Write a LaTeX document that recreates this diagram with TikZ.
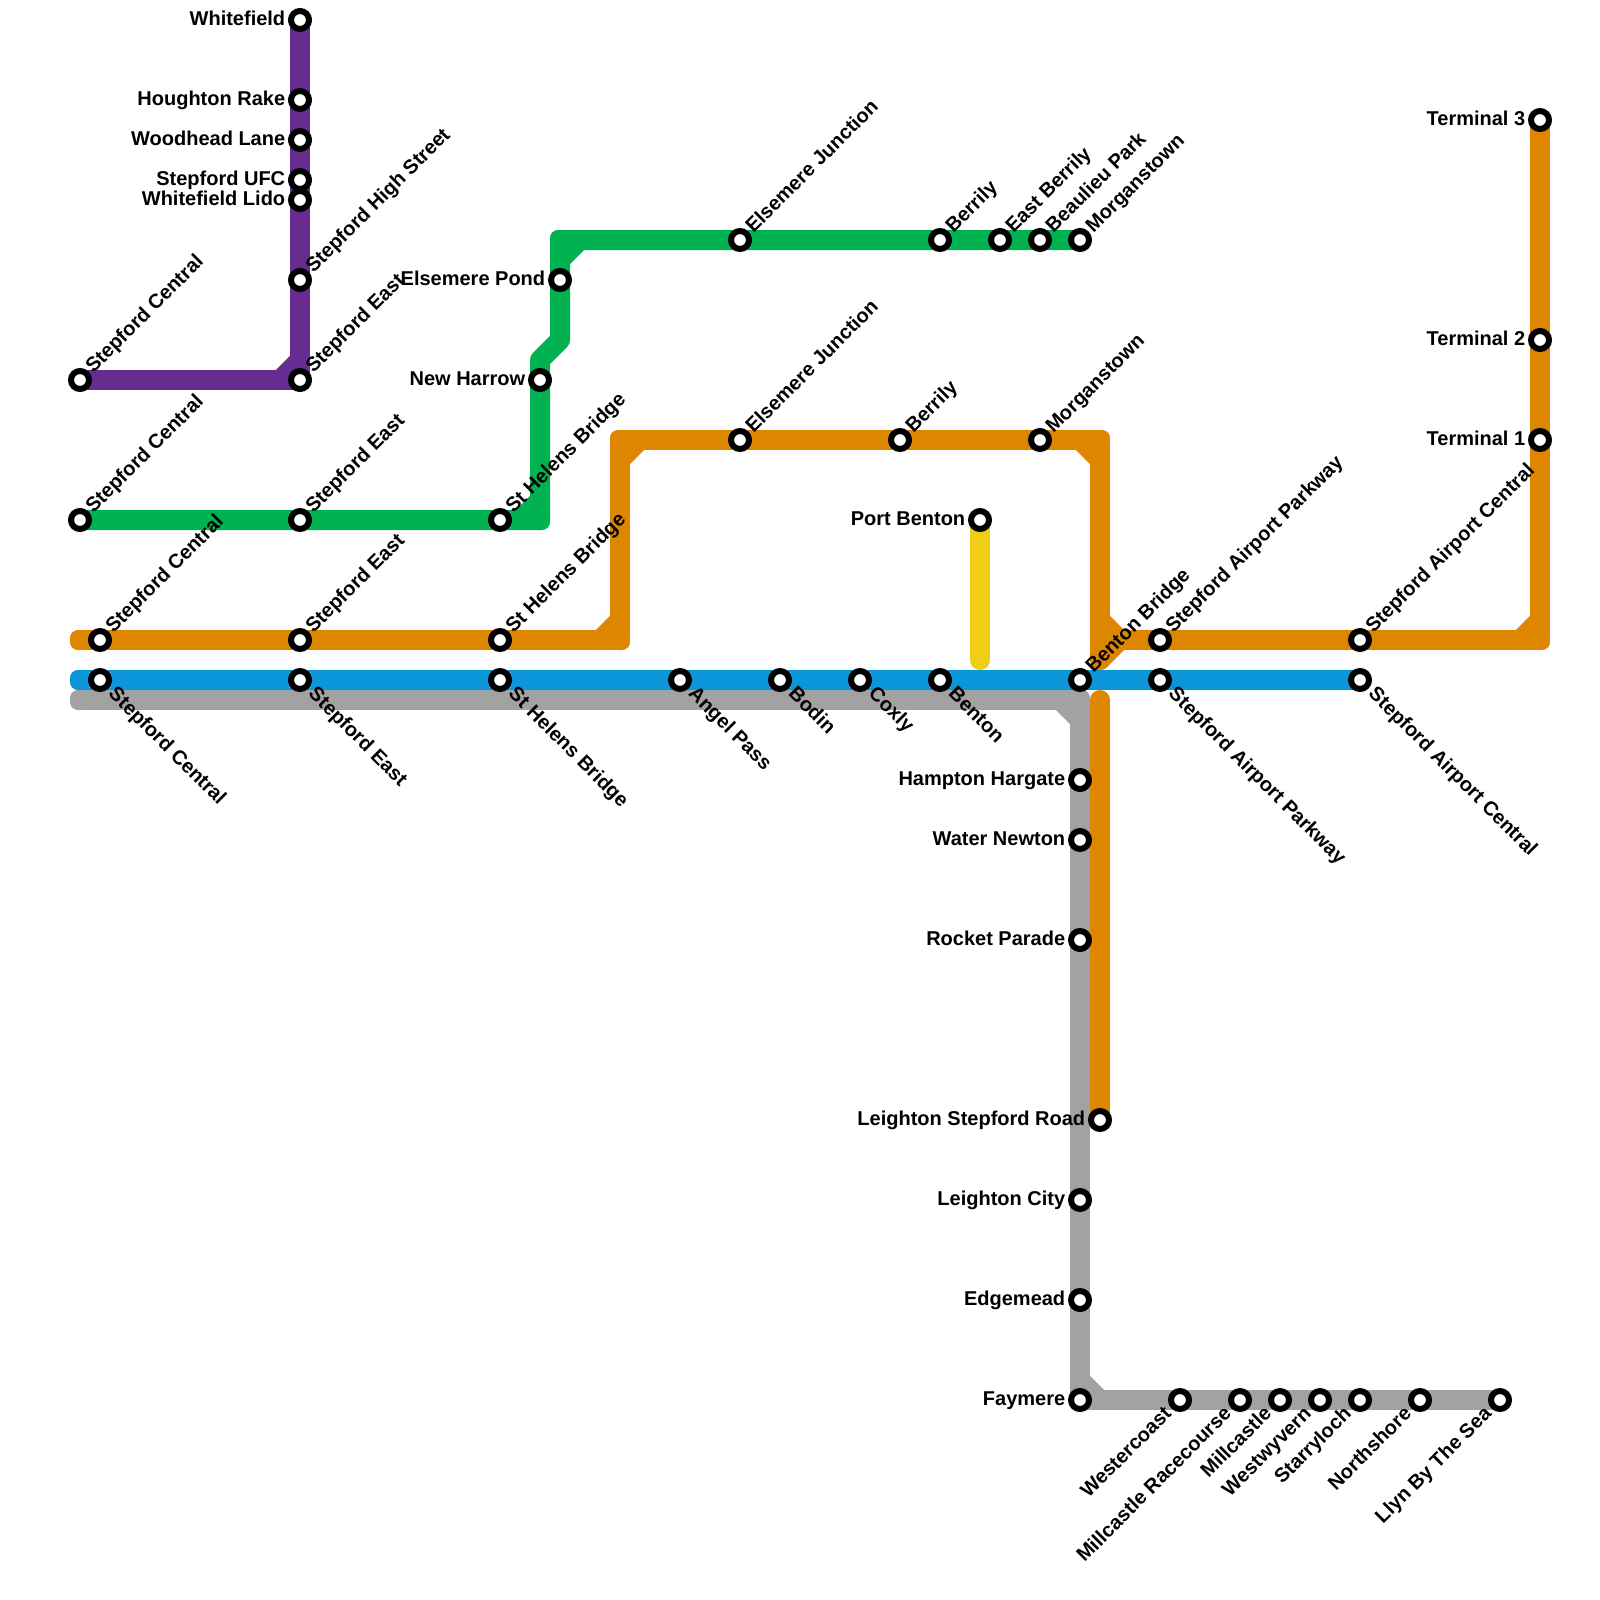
\documentclass[tikz,border=0pt]{standalone}
\usepackage{fontspec}
\setmainfont{Liberation Sans}
\definecolor{cpur}{HTML}{662C90}
\definecolor{cgrn}{HTML}{00B251}
\definecolor{cora}{HTML}{DF8600}
\definecolor{cblu}{HTML}{0A96D8}
\definecolor{cgry}{HTML}{A2A2A2}
\definecolor{cyel}{HTML}{F0CE15}
\pgfdeclarelayer{lines}
\pgfsetlayers{lines,main}
\tikzset{
  railway/.style={line width=10pt,line cap=round,line join=round},
  stopring/.style={circle,draw=black,fill=white,line width=3pt,inner sep=0pt,minimum size=9pt},
  lab/.style={inner sep=0pt,font=\fontsize{10pt}{12pt}\selectfont\bfseries,text height=7.2pt,text depth=0pt},
  lw/.style={lab,anchor=east,xshift=-7.2pt,yshift=1pt},
  lne/.style={lab,anchor=west,rotate=45,xshift=6.8pt,yshift=1pt},
  lse/.style={lab,anchor=west,rotate=-45,xshift=7.8pt,yshift=1pt},
  lsw/.style={lab,anchor=east,rotate=45,xshift=-7.8pt,yshift=1pt}
}
\newcommand{\st}[5]{\node[stopring] (#1) at (#2,#3) {}; \node[#4] (#1-t) at (#1) {#5};}
\newcommand{\bare}[3]{\node[stopring] (#1) at (#2,#3) {};}
\newcommand{\cnr}[2]{\fill[#1,rounded corners=4pt] (#2) ++(-10,-10) rectangle ++(20,20);}
\begin{document}
\begin{tikzpicture}[x=0.5pt,y=-0.5pt]
\useasboundingbox (0,0) rectangle (1600,1600);
% bends and free ends
\coordinate (pb) at (300,380);
\coordinate (gb1) at (540,520);
\coordinate (gb2) at (540,360);
\coordinate (gb3) at (560,340);
\coordinate (gb4) at (560,240);
\coordinate (ol) at (80,640);
\coordinate (ob1) at (620,640);
\coordinate (ob2) at (620,440);
\coordinate (ob3) at (1100,440);
\coordinate (ob4) at (1100,660);
\coordinate (oj) at (1100,620);
\coordinate (oj2) at (1120,640);
\coordinate (ob5) at (1540,640);
\coordinate (os) at (1100,700);
\coordinate (bl) at (80,680);
\coordinate (yl) at (980,660);
\coordinate (gl) at (80,700);
\coordinate (ge1) at (1080,700);
\coordinate (ge2) at (1080,1400);
% purple
\st{pa}{300}{20}{lw}{Whitefield}
\st{pb1}{300}{100}{lw}{Houghton Rake}
\st{pc}{300}{140}{lw}{Woodhead Lane}
\st{pd}{300}{180}{lw}{Stepford UFC}
\st{pe}{300}{200}{lw}{Whitefield Lido}
\st{pf}{300}{280}{lne}{Stepford High Street}
\st{pg}{300}{380}{lne}{Stepford East}
\st{ph}{80}{380}{lne}{Stepford Central}
% green
\st{ga}{80}{520}{lne}{Stepford Central}
\st{gb}{300}{520}{lne}{Stepford East}
\st{gc}{500}{520}{lne}{St Helens Bridge}
\st{gd}{540}{380}{lw}{New Harrow}
\st{ge}{560}{280}{lw}{Elsemere Pond}
\st{gf}{740}{240}{lne}{Elsemere Junction}
\st{gg}{940}{240}{lne}{Berrily}
\st{gh}{1000}{240}{lne}{East Berrily}
\st{gi}{1040}{240}{lne}{Beaulieu Park}
\st{gj}{1080}{240}{lne}{Morganstown}
% orange
\st{oa}{100}{640}{lne}{Stepford Central}
\st{ob}{300}{640}{lne}{Stepford East}
\st{oc}{500}{640}{lne}{St Helens Bridge}
\st{od}{740}{440}{lne}{Elsemere Junction}
\st{oe}{900}{440}{lne}{Berrily}
\st{of}{1040}{440}{lne}{Morganstown}
\st{og}{1160}{640}{lne}{Stepford Airport Parkway}
\st{oh}{1360}{640}{lne}{Stepford Airport Central}
\st{oi}{1540}{440}{lw}{Terminal 1}
\st{oj1}{1540}{340}{lw}{Terminal 2}
\st{ok}{1540}{120}{lw}{Terminal 3}
\bare{ol1}{1100}{1120}
% yellow
\st{ya}{980}{520}{lw}{Port Benton}
% blue
\st{ba}{100}{680}{lse}{Stepford Central}
\st{bb}{300}{680}{lse}{Stepford East}
\st{bc}{500}{680}{lse}{St Helens Bridge}
\st{bd}{680}{680}{lse}{Angel Pass}
\st{be}{780}{680}{lse}{Bodin}
\st{bf}{860}{680}{lse}{Coxly}
\st{bg}{940}{680}{lse}{Benton}
\st{bh}{1080}{680}{lne}{Benton Bridge}
\st{bi}{1160}{680}{lse}{Stepford Airport Parkway}
\st{bj}{1360}{680}{lse}{Stepford Airport Central}
% grey
\st{ca}{1080}{780}{lw}{Hampton Hargate}
\st{cb}{1080}{840}{lw}{Water Newton}
\st{cc}{1080}{940}{lw}{Rocket Parade}
\node[lw] (cd-t) at (ol1) {Leighton Stepford Road};
\st{ce}{1080}{1200}{lw}{Leighton City}
\st{cf}{1080}{1300}{lw}{Edgemead}
\st{cg}{1080}{1400}{lw}{Faymere}
\st{ch}{1180}{1400}{lsw}{Westercoast}
\st{ci}{1240}{1400}{lsw}{Millcastle Racecourse}
\st{cj}{1280}{1400}{lsw}{Millcastle}
\st{ck}{1320}{1400}{lsw}{Westwyvern}
\st{cl}{1360}{1400}{lsw}{Starryloch}
\st{cm}{1420}{1400}{lsw}{Northshore}
\st{cn}{1500}{1400}{lsw}{Llyn By The Sea}
\begin{pgfonlayer}{lines}
% purple
\draw[railway,cpur] (ph.center) -- (pb) -- (pa.center);
\draw[railway,cpur] (pb) ++(-20,0) -- ++(20,-20);
\cnr{cpur}{pb}
% green
\draw[railway,cgrn] (ga.center) -- (gb1) -- (gb2) -- (gb3) -- (gb4) -- (gj.center);
\draw[railway,cgrn] (gb1) ++(-20,0) -- ++(20,-20);
\draw[railway,cgrn] (gb4) ++(0,20) -- ++(20,-20);
\cnr{cgrn}{gb1}
\cnr{cgrn}{gb4}
% orange
\draw[railway,cora] (ol) -- (ob1) -- (ob2) -- (ob3) -- (ob4);
\draw[railway,cora] (ob1) ++(-20,0) -- ++(20,-20);
\draw[railway,cora] (ob2) ++(0,20) -- ++(20,-20);
\draw[railway,cora] (ob3) ++(-20,0) -- ++(20,20);
\draw[railway,cora] (oj) -- (oj2) -- (ob4);
\draw[railway,cora] (oj2) -- (ob5) -- (ok.center);
\draw[railway,cora] (ob5) ++(-20,0) -- ++(20,-20);
\draw[railway,cora] (os) -- (ol1.center);
\cnr{cora}{ol}
\cnr{cora}{ob1}
\cnr{cora}{ob2}
\cnr{cora}{ob3}
\cnr{cora}{ob5}
% yellow
\draw[railway,cyel] (ya.center) -- (yl);
% grey
\draw[railway,cgry] (gl) -- (ge1) -- (ge2) -- (cn.center);
\draw[railway,cgry] (ge1) ++(-20,0) -- ++(20,20);
\draw[railway,cgry] (ge2) ++(0,-20) -- ++(20,20);
\cnr{cgry}{gl}
\cnr{cgry}{ge1}
\cnr{cgry}{ge2}
% blue
\draw[railway,cblu] (bl) -- (bj.center);
\cnr{cblu}{bl}
\end{pgfonlayer}
\end{tikzpicture}
\end{document}
